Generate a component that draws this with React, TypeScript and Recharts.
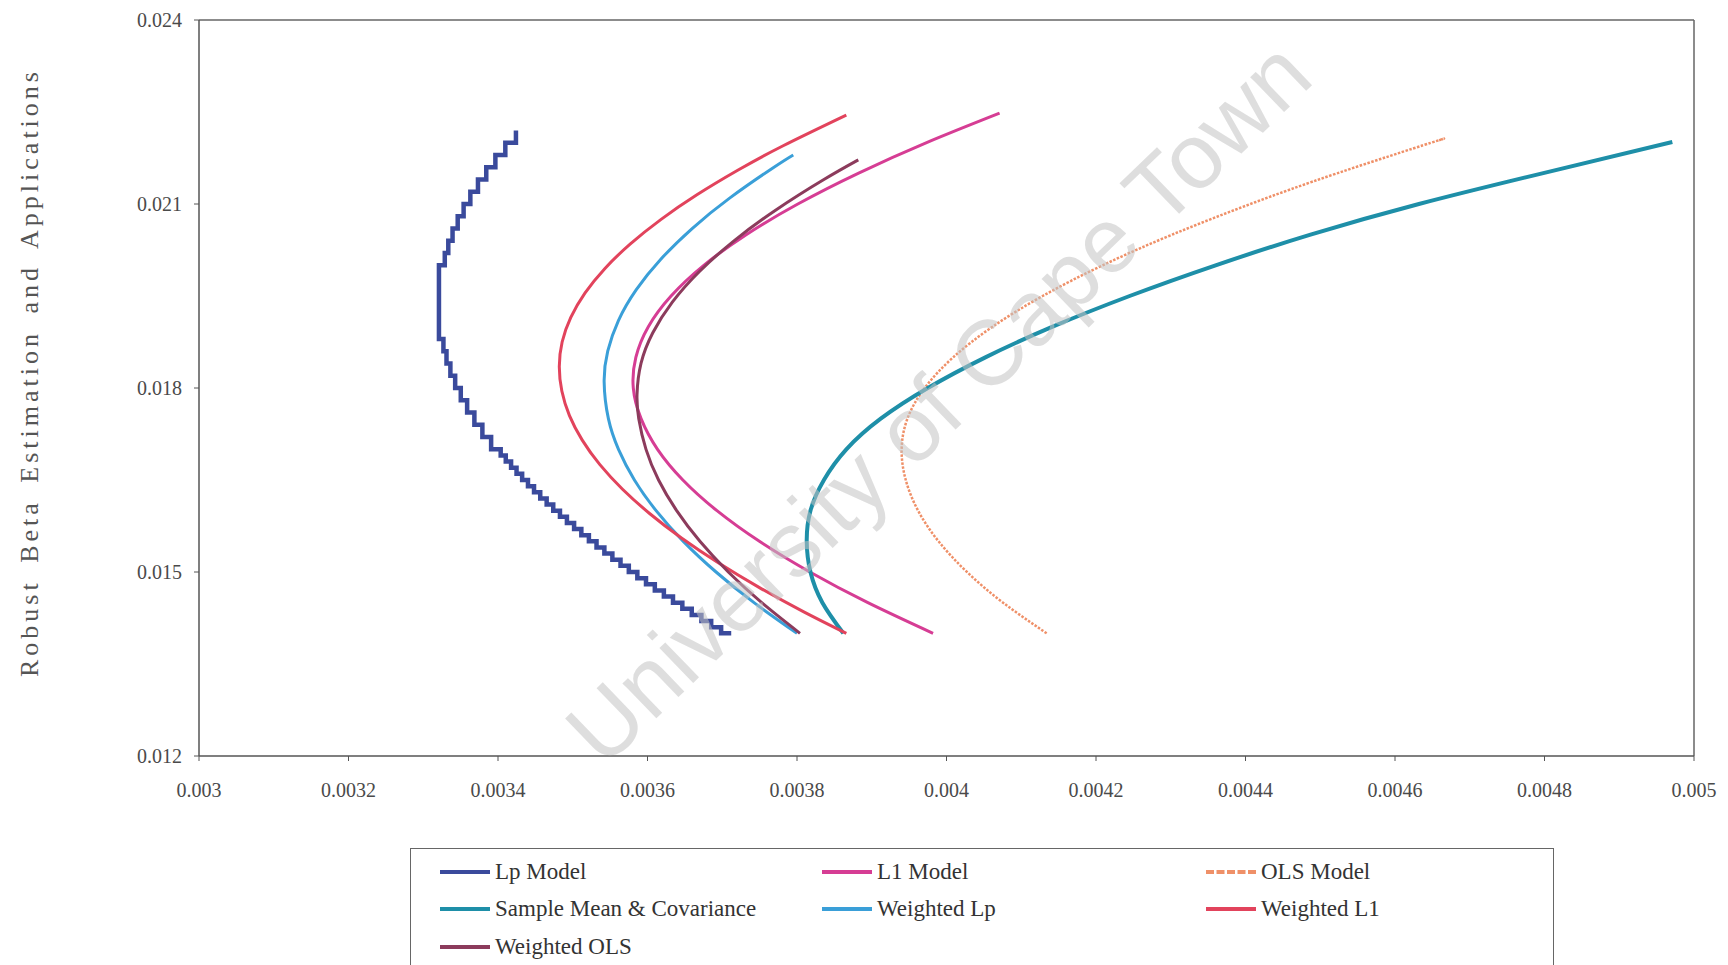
import React from "react";
import { LineChart, Line, XAxis, YAxis, ReferenceLine } from "recharts";

const xTicks = [0.003, 0.0032, 0.0034, 0.0036, 0.0038, 0.004, 0.0042, 0.0044, 0.0046, 0.0048, 0.005];
const xTickLabels = ["0.003", "0.0032", "0.0034", "0.0036", "0.0038", "0.004", "0.0042", "0.0044", "0.0046", "0.0048", "0.005"];
const yTicks = [0.012, 0.015, 0.018, 0.021, 0.024];
const yTickLabels = ["0.012", "0.015", "0.018", "0.021", "0.024"];

const yAxisTitle = "Robust Beta Estimation and Applications";
const watermark = "University of Cape Town";

const lpModel = [
  { x: 0.003712, y: 0.014 }, { x: 0.0036985, y: 0.0141 }, { x: 0.0036852, y: 0.0142 }, { x: 0.0036721, y: 0.0143 },
  { x: 0.0036592, y: 0.0144 }, { x: 0.0036466, y: 0.0145 }, { x: 0.0036341, y: 0.0146 }, { x: 0.0036219, y: 0.0147 },
  { x: 0.0036098, y: 0.0148 }, { x: 0.003598, y: 0.0149 }, { x: 0.0035864, y: 0.015 }, { x: 0.003575, y: 0.0151 },
  { x: 0.0035639, y: 0.0152 }, { x: 0.003553, y: 0.0153 }, { x: 0.0035423, y: 0.0154 }, { x: 0.0035318, y: 0.0155 },
  { x: 0.0035216, y: 0.0156 }, { x: 0.0035115, y: 0.0157 }, { x: 0.0035018, y: 0.0158 }, { x: 0.0034922, y: 0.0159 },
  { x: 0.0034829, y: 0.016 }, { x: 0.0034739, y: 0.0161 }, { x: 0.0034651, y: 0.0162 }, { x: 0.0034565, y: 0.0163 },
  { x: 0.0034482, y: 0.0164 }, { x: 0.0034401, y: 0.0165 }, { x: 0.0034323, y: 0.0166 }, { x: 0.0034248, y: 0.0167 },
  { x: 0.0034175, y: 0.0168 }, { x: 0.0034104, y: 0.0169 }, { x: 0.0034036, y: 0.017 }, { x: 0.0033908, y: 0.0172 },
  { x: 0.0033791, y: 0.0174 }, { x: 0.0033684, y: 0.0176 }, { x: 0.0033587, y: 0.0178 }, { x: 0.0033502, y: 0.018 },
  { x: 0.0033427, y: 0.0182 }, { x: 0.0033363, y: 0.0184 }, { x: 0.0033311, y: 0.0186 }, { x: 0.003327, y: 0.0188 },
  { x: 0.003321, y: 0.0189 }, { x: 0.003321, y: 0.02 }, { x: 0.0033288, y: 0.0202 }, { x: 0.0033335, y: 0.0204 },
  { x: 0.0033392, y: 0.0206 }, { x: 0.0033461, y: 0.0208 }, { x: 0.003354, y: 0.021 }, { x: 0.003363, y: 0.0212 },
  { x: 0.0033732, y: 0.0214 }, { x: 0.0033843, y: 0.0216 }, { x: 0.0033965, y: 0.0218 }, { x: 0.0034098, y: 0.022 },
  { x: 0.003424, y: 0.0222 },
];

const l1Model = [
  { x: 0.003982, y: 0.014 }, { x: 0.0038948, y: 0.0145 }, { x: 0.0038172, y: 0.015 }, { x: 0.0037497, y: 0.0155 },
  { x: 0.0036929, y: 0.016 }, { x: 0.0036473, y: 0.0165 }, { x: 0.0036134, y: 0.017 }, { x: 0.0035914, y: 0.0175 },
  { x: 0.003581, y: 0.018 }, { x: 0.0035844, y: 0.0185 }, { x: 0.0036011, y: 0.019 }, { x: 0.0036315, y: 0.0195 },
  { x: 0.0036753, y: 0.02 }, { x: 0.003732, y: 0.0205 }, { x: 0.0038011, y: 0.021 }, { x: 0.0038818, y: 0.0215 },
  { x: 0.0039734, y: 0.022 }, { x: 0.004071, y: 0.02248 },
];

const olsModel = [
  { x: 0.004134, y: 0.014 }, { x: 0.0040757, y: 0.0145 }, { x: 0.0040274, y: 0.015 }, { x: 0.0039894, y: 0.0155 },
  { x: 0.003962, y: 0.016 }, { x: 0.0039455, y: 0.0165 }, { x: 0.00394, y: 0.017 }, { x: 0.0039477, y: 0.0175 },
  { x: 0.0039708, y: 0.018 }, { x: 0.0040089, y: 0.0185 }, { x: 0.0040617, y: 0.019 }, { x: 0.0041286, y: 0.0195 },
  { x: 0.0042088, y: 0.02 }, { x: 0.0043018, y: 0.0205 }, { x: 0.0044066, y: 0.021 }, { x: 0.0045224, y: 0.0215 },
  { x: 0.0046485, y: 0.022 }, { x: 0.004659, y: 0.02204 },
];

const sampleMeanCov = [
  { x: 0.003862, y: 0.014 }, { x: 0.003834, y: 0.0145 }, { x: 0.003818, y: 0.015 }, { x: 0.003813, y: 0.0155 },
  { x: 0.003818, y: 0.016 }, { x: 0.003836, y: 0.0165 }, { x: 0.003866, y: 0.017 }, { x: 0.003912, y: 0.0175 },
  { x: 0.003975, y: 0.018 }, { x: 0.004052, y: 0.0185 }, { x: 0.004142, y: 0.019 }, { x: 0.004245, y: 0.0195 },
  { x: 0.00436, y: 0.02 }, { x: 0.004487, y: 0.0205 }, { x: 0.004632, y: 0.021 }, { x: 0.004797, y: 0.0215 },
  { x: 0.004971, y: 0.02201 },
];

const weightedLp = [
  { x: 0.0038, y: 0.014 }, { x: 0.0037425, y: 0.0145 }, { x: 0.0036917, y: 0.015 }, { x: 0.0036479, y: 0.0155 },
  { x: 0.0036115, y: 0.016 }, { x: 0.0035825, y: 0.0165 }, { x: 0.0035612, y: 0.017 }, { x: 0.0035477, y: 0.0175 },
  { x: 0.003542, y: 0.0181 }, { x: 0.0035468, y: 0.0186 }, { x: 0.0035611, y: 0.0191 }, { x: 0.0035848, y: 0.0196 },
  { x: 0.0036178, y: 0.0201 }, { x: 0.0036597, y: 0.0206 }, { x: 0.0037103, y: 0.0211 }, { x: 0.0037692, y: 0.0216 },
  { x: 0.003795, y: 0.0218 },
];

const weightedL1 = [
  { x: 0.003866, y: 0.014 }, { x: 0.0038091, y: 0.01435 }, { x: 0.0037492, y: 0.01475 }, { x: 0.0036947, y: 0.01515 },
  { x: 0.0036459, y: 0.01555 }, { x: 0.0036032, y: 0.01595 }, { x: 0.0035666, y: 0.01635 }, { x: 0.0035363, y: 0.01675 },
  { x: 0.0035127, y: 0.01715 }, { x: 0.0034956, y: 0.01755 }, { x: 0.0034854, y: 0.01795 }, { x: 0.003482, y: 0.01835 },
  { x: 0.0034858, y: 0.01875 }, { x: 0.0034974, y: 0.01915 }, { x: 0.0035165, y: 0.01955 }, { x: 0.0035431, y: 0.01995 },
  { x: 0.0035771, y: 0.02035 }, { x: 0.0036182, y: 0.02075 }, { x: 0.0036661, y: 0.02115 }, { x: 0.0037207, y: 0.02155 },
  { x: 0.0037815, y: 0.02195 }, { x: 0.003866, y: 0.02245 },
];

const weightedOls = [
  { x: 0.003804, y: 0.014 }, { x: 0.0037528, y: 0.0145 }, { x: 0.0037081, y: 0.015 }, { x: 0.0036701, y: 0.0155 },
  { x: 0.003639, y: 0.016 }, { x: 0.0036148, y: 0.0165 }, { x: 0.003598, y: 0.017 }, { x: 0.0035883, y: 0.0175 },
  { x: 0.003586, y: 0.0179 }, { x: 0.0035913, y: 0.0184 }, { x: 0.0036071, y: 0.0189 }, { x: 0.0036332, y: 0.0194 },
  { x: 0.0036695, y: 0.0199 }, { x: 0.0037157, y: 0.0204 }, { x: 0.0037713, y: 0.0209 }, { x: 0.003836, y: 0.0214 },
  { x: 0.003882, y: 0.02172 },
];

type Series = { name: string; data: { x: number; y: number }[]; color: string; width: number; curve: any; dash?: string };

const series: Series[] = [
  { name: "Lp Model", data: lpModel, color: "#3a4a9c", width: 4.5, curve: "stepAfter" },
  { name: "L1 Model", data: l1Model, color: "#d63d94", width: 3, curve: "natural" },
  { name: "OLS Model", data: olsModel, color: "#ef9068", width: 2.5, curve: "natural", dash: "2.5 1.5" },
  { name: "Sample Mean & Covariance", data: sampleMeanCov, color: "#1e8fa8", width: 4, curve: "natural" },
  { name: "Weighted Lp", data: weightedLp, color: "#3a9fd8", width: 3, curve: "natural" },
  { name: "Weighted L1", data: weightedL1, color: "#e2435c", width: 3, curve: "natural" },
  { name: "Weighted OLS", data: weightedOls, color: "#8c3b5c", width: 3, curve: "natural" },
];

const serif = "'Liberation Serif', 'Times New Roman', serif";

const legendCols = [29, 411, 795];
const legendRows = [23, 60, 98];

function LegendBox() {
  return (
    <div
      style={{
        position: "absolute",
        left: 410,
        top: 848,
        width: 1144,
        height: 140,
        border: "1.5px solid #666",
        boxSizing: "border-box",
        fontFamily: serif,
        fontSize: 23,
        color: "#333",
      }}
    >
      {series.map((s, i) => {
        const col = i % 3;
        const row = Math.floor(i / 3);
        return (
          <div
            key={s.name}
            style={{
              position: "absolute",
              left: legendCols[col],
              top: legendRows[row] - 14,
              height: 28,
              display: "flex",
              alignItems: "center",
              whiteSpace: "nowrap",
            }}
          >
            <div
              style={{
                width: 50,
                height: 0,
                borderTop: `4px ${s.dash ? "dashed" : "solid"} ${s.color}`,
                marginRight: 5,
              }}
            />
            <span>{s.name}</span>
          </div>
        );
      })}
    </div>
  );
}

export default function App() {
  return (
    <div
      style={{
        position: "absolute",
        left: 0,
        top: 0,
        width: 1728,
        height: 965,
        overflow: "hidden",
        background: "#fff",
      }}
    >
      <LineChart width={1728} height={965} margin={{ top: 20, right: 34, bottom: 169, left: 0 }}>
        <XAxis
          type="number"
          dataKey="x"
          domain={[0.003, 0.005]}
          ticks={xTicks}
          allowDataOverflow
          height={40}
          tickSize={5}
          tickMargin={22}
          tickFormatter={(v: number, i: number) => xTickLabels[i] ?? String(v)}
          tick={{ fontFamily: serif, fontSize: 20, fill: "#4a4a4a" }}
          axisLine={{ stroke: "#555", strokeWidth: 1.5 }}
          tickLine={{ stroke: "#555" }}
        />
        <YAxis
          type="number"
          dataKey="y"
          domain={[0.012, 0.024]}
          ticks={yTicks}
          allowDataOverflow
          width={199}
          tickSize={5}
          tickMargin={12}
          tickFormatter={(v: number, i: number) => yTickLabels[i] ?? String(v)}
          tick={{ fontFamily: serif, fontSize: 20, fill: "#4a4a4a" }}
          axisLine={{ stroke: "#555", strokeWidth: 1.5 }}
          tickLine={{ stroke: "#555" }}
        />
        <ReferenceLine y={0.024} stroke="#666" strokeWidth={1.5} />
        <ReferenceLine x={0.005} stroke="#666" strokeWidth={1.5} />
        {series.map((s) => (
          <Line
            key={s.name}
            name={s.name}
            data={s.data}
            dataKey="y"
            type={s.curve}
            stroke={s.color}
            strokeWidth={s.width}
            strokeDasharray={s.dash}
            dot={false}
            activeDot={false}
            isAnimationActive={false}
          />
        ))}
      </LineChart>
      <LegendBox />
      <svg
        width={1728}
        height={965}
        style={{ position: "absolute", left: 0, top: 0, pointerEvents: "none" }}
      >
        <text
          x={38}
          y={677}
          transform="rotate(-90 38 677)"
          textAnchor="start"
          fontFamily={serif}
          fontSize={26}
          letterSpacing={4}
          wordSpacing={6}
          fill="#555"
        >
          {yAxisTitle}
        </text>
        <text
          x={938}
          y={402}
          transform="rotate(-44 938 402)"
          textAnchor="middle"
          dominantBaseline="central"
          fontFamily="'Liberation Sans', Arial, sans-serif"
          fontSize={92}
          fill="rgba(195,195,195,0.55)"
        >
          {watermark}
        </text>
      </svg>
    </div>
  );
}
